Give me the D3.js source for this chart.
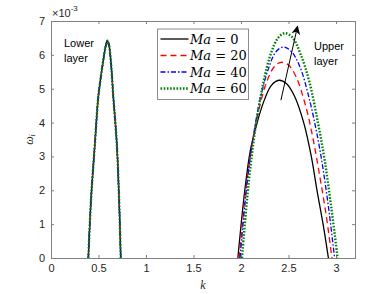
<!DOCTYPE html>
<html>
<head>
<meta charset="utf-8">
<script src="https://cdn.jsdelivr.net/npm/d3@7"></script>
<style>
  body { margin: 0; background: #fff; }
  svg { display: block; font-family: "Liberation Sans", Arial, sans-serif; }
</style>
</head>
<body>
<div id="chart"></div>
<script>
// 値は図から読み取り（ω_i は ×10^-3 単位）
const seriesNames = ['Ma = 0', 'Ma = 20', 'Ma = 40', 'Ma = 60'];
const maValues = [0, 20, 40, 60];

// 下層モード（全 Ma でほぼ重なる）
const lowerLayer = [
    [0.393, 0], [0.421, 1.71], [0.464, 3.45], [0.498, 4.76], [0.545, 5.74],
    [0.575, 6.25], [0.593, 6.42], [0.61, 6.3], [0.632, 5.74], [0.656, 4.76],
    [0.692, 3.4], [0.717, 1.71], [0.734, 0]
];

// 上層モード
const upperMa0 = [
    [1.967, 0], [2.04, 2.0], [2.10, 3.2], [2.17, 4.0], [2.25, 4.7], [2.32, 5.1],
    [2.40, 5.25], [2.48, 5.15], [2.56, 4.8], [2.66, 4.0], [2.74, 3.0], [2.80, 2.0],
    [2.87, 0.9], [2.92, 0]
];
const upperMa20 = [
    [1.98, 0], [2.05, 2.0], [2.12, 3.4], [2.19, 4.4], [2.27, 5.2], [2.35, 5.65],
    [2.42, 5.78], [2.50, 5.7], [2.58, 5.35], [2.68, 4.5], [2.76, 3.5], [2.83, 2.4],
    [2.90, 1.2], [2.957, 0]
];
const upperMa40 = [
    [1.99, 0], [2.06, 2.1], [2.13, 3.6], [2.21, 4.8], [2.29, 5.6], [2.37, 6.1],
    [2.45, 6.23], [2.53, 6.1], [2.62, 5.65], [2.71, 4.8], [2.79, 3.8], [2.86, 2.7],
    [2.93, 1.3], [2.985, 0]
];
const upperMa60 = [
    [2.01, 0], [2.08, 2.2], [2.15, 3.8], [2.23, 5.1], [2.31, 6.0], [2.39, 6.5],
    [2.46, 6.64], [2.54, 6.52], [2.63, 6.0], [2.72, 5.2], [2.81, 4.0], [2.88, 2.9],
    [2.95, 1.5], [3.017, 0]
];
const upperLayer = [upperMa0, upperMa20, upperMa40, upperMa60];

const xTicks = [0, 0.5, 1, 1.5, 2, 2.5, 3];
const yTicks = [0, 1, 2, 3, 4, 5, 6, 7];

// 矢印（Ma 増加方向）
const arrowFrom = [2.42, 4.66];
const arrowTo = [2.595, 6.84];

const styles = [
    { color: '#000000', dash: null, width: 1.3 },
    { color: '#ff0000', dash: '6,4', width: 1.3 },
    { color: '#0000ff', dash: '5,2,1.5,2', width: 1.3 },
    { color: '#008000', dash: '1.6,1.6', width: 2.4 }
];

const width = 392, height = 294;
const margin = { left: 51, right: 37, top: 21, bottom: 36 };
const iw = width - margin.left - margin.right;
const ih = height - margin.top - margin.bottom;

const svg = d3.select('#chart').append('svg')
    .attr('width', width).attr('height', height);

const x = d3.scaleLinear().domain([0, 3.2]).range([margin.left, margin.left + iw]);
const y = d3.scaleLinear().domain([0, 7]).range([margin.top + ih, margin.top]);

const axisColor = '#808080';
const textColor = '#262626';

// 軸（MATLAB 風：内向き目盛り、上下左右）
const gx = svg.append('g').attr('transform', `translate(0,${margin.top + ih})`)
    .call(d3.axisBottom(x).tickValues(xTicks).tickSize(-3).tickPadding(6).tickFormat(d3.format('')));
const gxt = svg.append('g').attr('transform', `translate(0,${margin.top})`)
    .call(d3.axisTop(x).tickValues(xTicks).tickSize(-3).tickFormat(''));
const gy = svg.append('g').attr('transform', `translate(${margin.left},0)`)
    .call(d3.axisLeft(y).tickValues(yTicks).tickSize(-3).tickPadding(6).tickFormat(d3.format('d')));
const gyr = svg.append('g').attr('transform', `translate(${margin.left + iw},0)`)
    .call(d3.axisRight(y).tickValues(yTicks).tickSize(-3).tickFormat(''));

[gx, gxt, gy, gyr].forEach(g => {
    g.selectAll('path').attr('stroke', axisColor);
    g.selectAll('line').attr('stroke', axisColor);
    g.selectAll('text').attr('fill', textColor).attr('font-size', '11px')
        .attr('font-family', '"Liberation Sans", Arial, sans-serif');
});

// 曲線
const line = d3.line().x(d => x(d[0])).y(d => y(d[1])).curve(d3.curveCatmullRom.alpha(0.5));

const plot = svg.append('g');
maValues.forEach((ma, i) => {
    [lowerLayer, upperLayer[i]].forEach(pts => {
        plot.append('path')
            .attr('d', line(pts))
            .attr('fill', 'none')
            .attr('stroke', styles[i].color)
            .attr('stroke-width', styles[i].width)
            .attr('stroke-dasharray', styles[i].dash);
    });
});

// 矢印
svg.append('defs').append('marker')
    .attr('id', 'arrow').attr('viewBox', '0 0 10 10')
    .attr('refX', 9).attr('refY', 5)
    .attr('markerWidth', 9).attr('markerHeight', 9)
    .attr('markerUnits', 'userSpaceOnUse')
    .attr('orient', 'auto')
    .append('path').attr('d', 'M0,0 L10,5 L0,10 L3,5 Z').attr('fill', '#000');

svg.append('line')
    .attr('x1', x(arrowFrom[0])).attr('y1', y(arrowFrom[1]))
    .attr('x2', x(arrowTo[0])).attr('y2', y(arrowTo[1]))
    .attr('stroke', '#000').attr('stroke-width', 1)
    .attr('marker-end', 'url(#arrow)');

// 注釈
const note = (lines, px, py) => {
    const t = svg.append('text').attr('x', px).attr('y', py)
        .attr('font-size', '11px').attr('fill', '#000');
    lines.forEach((s, j) => t.append('tspan').attr('x', px).attr('dy', j ? 14.5 : 0).text(s));
};
note(['Lower', 'layer'], 64, 47);
note(['Upper', 'layer'], 314, 50);

// 凡例
const lg = svg.append('g');
lg.append('rect').attr('x', 157.5).attr('y', 29).attr('width', 91).attr('height', 70.5)
    .attr('fill', '#fff').attr('stroke', '#8c8c8c').attr('stroke-width', 1);
seriesNames.forEach((name, i) => {
    const ly = 39 + i * 16.5;
    lg.append('line').attr('x1', 160.5).attr('x2', 188.5).attr('y1', ly).attr('y2', ly)
        .attr('stroke', styles[i].color).attr('stroke-width', styles[i].width)
        .attr('stroke-dasharray', styles[i].dash);
    const t = lg.append('text').attr('x', 190).attr('y', ly + 4.5)
        .attr('font-family', '"DejaVu Serif", "Liberation Serif", serif')
        .attr('font-size', '13px').attr('fill', '#000');
    t.append('tspan').attr('font-style', 'italic').text('Ma');
    t.append('tspan').text(' = ' + maValues[i]);
});

// 軸ラベル
svg.append('text').attr('x', x(1.6)).attr('y', 289)
    .attr('text-anchor', 'middle').attr('font-family', '"Liberation Serif", serif')
    .attr('font-style', 'italic').attr('font-size', '12px').attr('fill', textColor).text('k');

const yl = svg.append('text')
    .attr('transform', `translate(33,${margin.top + ih / 2}) rotate(-90)`)
    .attr('text-anchor', 'middle').attr('font-family', '"Liberation Serif", serif')
    .attr('font-size', '12px').attr('fill', textColor);
yl.append('tspan').attr('font-style', 'italic').text('ω');
yl.append('tspan').attr('font-style', 'italic').attr('font-size', '8px').attr('dy', 2).text('i');

// 指数
const ex = svg.append('text').attr('x', 52).attr('y', 17)
    .attr('font-size', '11px').attr('fill', textColor);
ex.append('tspan').text('×10');
ex.append('tspan').attr('font-size', '8px').attr('dy', -6).text('-3');
</script>
</body>
</html>
